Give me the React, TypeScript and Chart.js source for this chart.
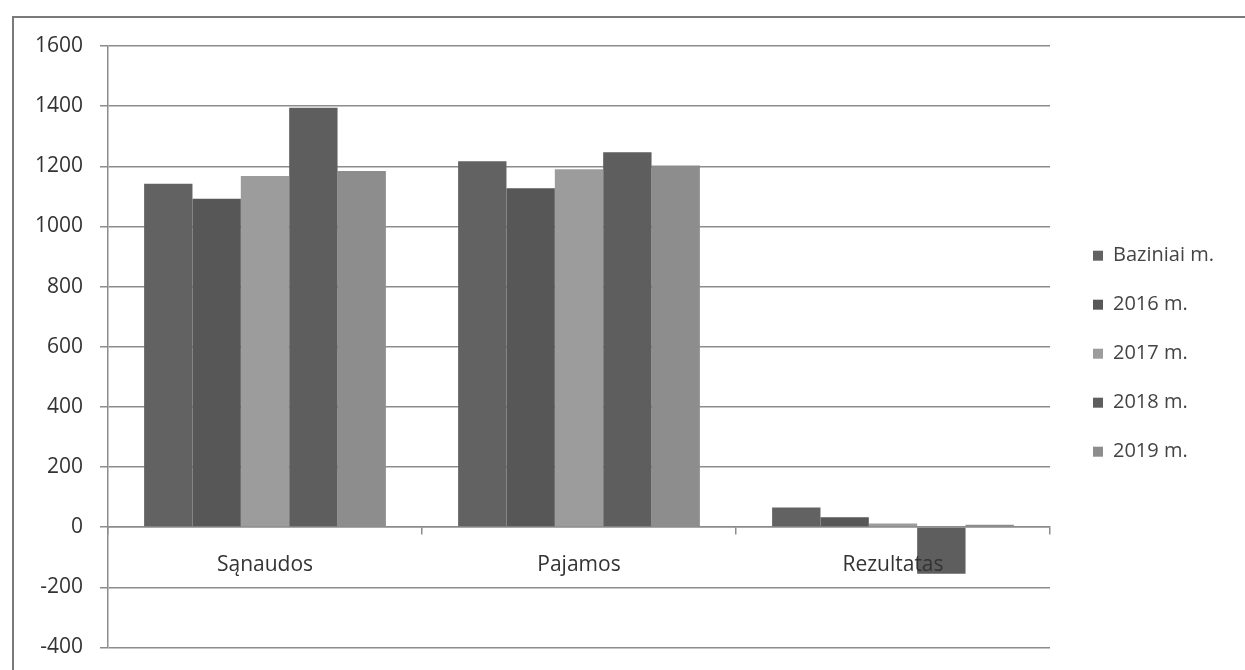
import React, { useEffect, useRef } from "react";
import { Chart, registerables } from "chart.js";

Chart.register(...registerables);

const categories = ["Sąnaudos", "Pajamos", "Rezultatas"];
const seriesLabels = ["Baziniai m.", "2016 m.", "2017 m.", "2018 m.", "2019 m."];
const baziniai = [1142, 1217, 65];
const m2016 = [1092, 1127, 33];
const m2017 = [1168, 1190, 12];
const m2018 = [1395, 1247, -155];
const m2019 = [1184, 1203, 8];
const seriesColors = ["#626262", "#575757", "#9c9c9c", "#5e5e5e", "#8d8d8d"];
const yMin = -400;
const yMax = 1600;
const yStep = 200;

const FONT = "'Open Sans', 'Noto Sans', sans-serif";

const sideLegend = {
  id: "sideLegend",
  afterDraw(chart: any) {
    const { ctx, chartArea } = chart;
    const ds = chart.data.datasets;
    const n = ds.length;
    const spacing = 49;
    const cy = (chartArea.top + chartArea.bottom) / 2 + 7;
    ctx.save();
    ctx.font = `20px ${FONT}`;
    ctx.textBaseline = "middle";
    ctx.textAlign = "left";
    for (let i = 0; i < n; i++) {
      const y = cy + (i - (n - 1) / 2) * spacing;
      const bx = chartArea.right + 43;
      ctx.fillStyle = ds[i].backgroundColor;
      ctx.fillRect(bx, y - 5, 10, 10);
      ctx.fillStyle = "#444444";
      ctx.fillText(ds[i].label, bx + 20, y);
    }
    ctx.restore();
  },
};

export default function App() {
  const ref = useRef<HTMLCanvasElement>(null);

  useEffect(() => {
    if (!ref.current) return;
    const values = [baziniai, m2016, m2017, m2018, m2019];
    const chart = new Chart(ref.current, {
      type: "bar",
      data: {
        labels: categories,
        datasets: seriesLabels.map((label, i) => ({
          label,
          data: values[i],
          backgroundColor: seriesColors[i],
          borderWidth: 0,
          categoryPercentage: 0.77,
          barPercentage: 1.0,
        })),
      },
      plugins: [sideLegend],
      options: {
        animation: false,
        responsive: true,
        maintainAspectRatio: false,
        devicePixelRatio: 1,
        layout: { padding: { left: 0, right: 195, top: 46, bottom: 10 } },
        plugins: {
          legend: { display: false },
          tooltip: { enabled: false },
          title: { display: false },
        },
        scales: {
          x: {
            type: "category",
            position: { y: 0 } as any,
            grid: {
              display: true,
              drawOnChartArea: false,
              drawTicks: true,
              tickLength: 7,
              offset: true,
              color: "#8c8c8c",
              lineWidth: 1.5,
            },
            border: { display: true, color: "#8c8c8c", width: 1.5 },
            ticks: {
              z: 1,
              color: "#333333",
              font: { family: FONT, size: 21 },
              padding: 18,
              maxRotation: 0,
            },
          },
          y: {
            type: "linear",
            min: yMin,
            max: yMax,
            afterFit(scale: any) {
              scale.width = 108;
            },
            grid: {
              color: "#8c8c8c",
              lineWidth: 1.5,
              drawTicks: true,
              tickLength: 8,
            },
            border: { display: true, color: "#8c8c8c", width: 1.5 },
            ticks: {
              stepSize: yStep,
              color: "#333333",
              font: { family: FONT, size: 21 },
              padding: 17,
              callback: (v: any) => String(v),
            },
          },
        },
      },
    });
    return () => chart.destroy();
  }, []);

  return (
    <div
      style={{
        position: "fixed",
        left: 0,
        top: 0,
        width: 1245,
        height: 670,
        overflow: "hidden",
        background: "#ffffff",
      }}
    >
      <div
        style={{
          position: "absolute",
          left: 12,
          top: 16,
          width: 1300,
          height: 700,
          borderLeft: "2px solid #7a7a7a",
          borderTop: "2px solid #7a7a7a",
        }}
      />
      <div style={{ position: "absolute", left: 0, top: 0, width: 1245, height: 677 }}>
        <canvas ref={ref} />
      </div>
    </div>
  );
}
